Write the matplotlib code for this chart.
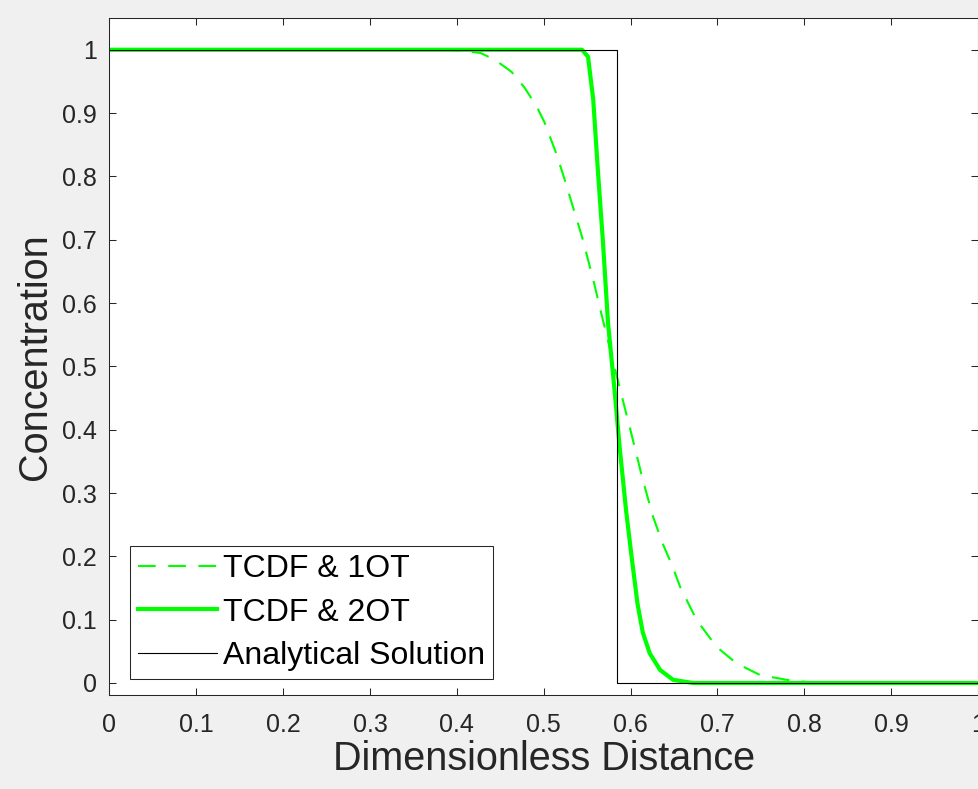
import numpy as np
import matplotlib.pyplot as plt
from matplotlib.ticker import FormatStrFormatter

plt.rcParams['font.family'] = ['Liberation Sans', 'DejaVu Sans']

# ── values ────────────────────────────────────────────────────────────
# TCDF & 1OT (dashed)
x_1ot = [0.0, 0.39, 0.407, 0.427, 0.444, 0.463, 0.478, 0.492, 0.501, 0.515,
         0.525, 0.534, 0.544, 0.557, 0.566, 0.575, 0.588, 0.599, 0.614,
         0.626, 0.637, 0.648, 0.657, 0.676, 0.699, 0.722, 0.749, 0.780,
         0.803, 0.840, 1.0]
c_1ot = [1.0, 1.0, 0.998, 0.995, 0.984, 0.965, 0.940, 0.910, 0.885, 0.834,
         0.791, 0.750, 0.705, 0.637, 0.585, 0.535, 0.463, 0.404, 0.321,
         0.262, 0.220, 0.185, 0.152, 0.0995, 0.057, 0.031, 0.0126, 0.005,
         0.0016, 0.0, 0.0]

# TCDF & 2OT (thick solid)
x_2ot = [0.0, 0.544, 0.551, 0.557, 0.5625, 0.568, 0.574, 0.581, 0.5877,
         0.595, 0.602, 0.608, 0.614, 0.622, 0.634, 0.649, 0.672, 1.0]
c_2ot = [1.0, 1.0, 0.989, 0.921, 0.806, 0.700, 0.569, 0.47, 0.368,
         0.27, 0.19, 0.125, 0.08, 0.047, 0.0205, 0.005, 0.0, 0.0]

# Analytical solution (sharp front)
x_ana = [0.0, 0.584, 0.584, 1.0]
c_ana = [1.0, 1.0, 0.0, 0.0]

labels = ["TCDF & 1OT", "TCDF & 2OT", "Analytical Solution"]
ticks = np.arange(0, 1.01, 0.1)

# ── figure ────────────────────────────────────────────────────────────
axcol = "#262626"
fig = plt.figure(figsize=(9.79, 7.89), dpi=100, facecolor="#F0F0F0")
ax = fig.add_axes([0.1118, 0.1191, 0.8872, 0.858])

ax.plot(x_1ot, c_1ot, color="#00FF00", linewidth=1.5, linestyle="--",
        dashes=(8.5, 6), label=labels[0])
ax.plot(x_2ot, c_2ot, color="#00FF00", linewidth=3.0, label=labels[1],
        solid_joinstyle="round")
ax.plot(x_ana, c_ana, color="black", linewidth=0.8, label=labels[2])

ax.set_xlim(0, 1)
ax.set_ylim(-0.019, 1.05)
ax.set_xticks(ticks)
ax.set_yticks(ticks)
ax.xaxis.set_major_formatter(FormatStrFormatter('%g'))
ax.yaxis.set_major_formatter(FormatStrFormatter('%g'))

ax.tick_params(direction="in", length=5, width=0.75, color=axcol,
               labelcolor=axcol, labelsize=18, top=True, right=True)
ax.tick_params(axis="x", pad=13)
ax.tick_params(axis="y", pad=9)
for sp in ax.spines.values():
    sp.set_color(axcol)
    sp.set_linewidth(0.75)

ax.set_xlabel("Dimensionless Distance", fontsize=28.5, color=axcol, labelpad=2)
ax.set_ylabel("Concentration", fontsize=28.5, color=axcol, labelpad=6)

leg = ax.legend(loc="lower left", bbox_to_anchor=(0.0236, 0.0236),
                borderaxespad=0, fontsize=23, frameon=True, fancybox=False,
                framealpha=1, edgecolor=axcol, handlelength=2.47,
                handletextpad=0.2, labelspacing=0.42, borderpad=0.25)
leg.get_frame().set_linewidth(0.75)

fig.savefig("out.png", dpi=100, facecolor=fig.get_facecolor())
